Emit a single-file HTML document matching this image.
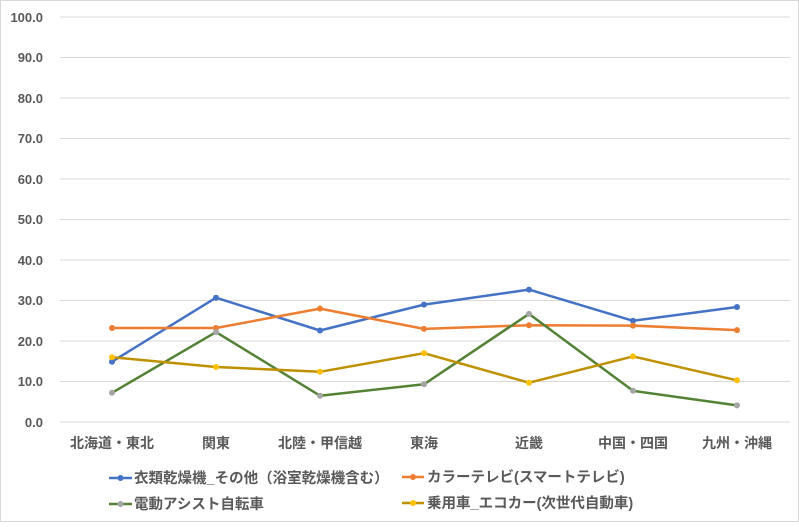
<!DOCTYPE html>
<html><head><meta charset="utf-8"><style>
body{margin:0;background:#fff}
svg text{font-family:"Liberation Sans","Noto Sans CJK JP",sans-serif;fill:#595959;font-weight:bold}
</style></head><body>
<svg width="799" height="522" xmlns="http://www.w3.org/2000/svg">
<rect x="0.5" y="0.5" width="798" height="521" fill="#fff" stroke="#d9d9d9"/>
<g stroke="#d9d9d9" stroke-width="1">
<line x1="60" x2="790" y1="422" y2="422"/><line x1="60" x2="790" y1="381.5" y2="381.5"/>
<line x1="60" x2="790" y1="341" y2="341"/><line x1="60" x2="790" y1="300.5" y2="300.5"/>
<line x1="60" x2="790" y1="260" y2="260"/><line x1="60" x2="790" y1="219.5" y2="219.5"/>
<line x1="60" x2="790" y1="179" y2="179"/><line x1="60" x2="790" y1="138.5" y2="138.5"/>
<line x1="60" x2="790" y1="98" y2="98"/><line x1="60" x2="790" y1="57.5" y2="57.5"/>
<line x1="60" x2="790" y1="17" y2="17"/>
</g>
<g font-size="13" text-anchor="end">
<text x="43" y="427">0.0</text><text x="43" y="386">10.0</text><text x="43" y="346">20.0</text>
<text x="43" y="305">30.0</text><text x="43" y="265">40.0</text><text x="43" y="224">50.0</text>
<text x="43" y="184">60.0</text><text x="43" y="143">70.0</text><text x="43" y="103">80.0</text>
<text x="43" y="62">90.0</text><text x="43" y="22">100.0</text>
</g>
<g font-size="14" text-anchor="middle">
<text x="112" y="448">北海道・東北</text><text x="216" y="448">関東</text><text x="320" y="448">北陸・甲信越</text>
<text x="424" y="448">東海</text><text x="529" y="448">近畿</text><text x="633" y="448">中国・四国</text><text x="737" y="448">九州・沖縄</text>
</g>
<g fill="none" stroke-width="2.5" stroke-linejoin="round">
<polyline stroke="#4472c4" points="112,361.7 216,297.7 320,330.5 424,304.6 529,289.6 633,320.8 737,307"/>
<polyline stroke="#ed7d31" points="112,328 216,328 320,308.6 424,328.9 529,325.2 633,325.6 737,330.1"/>
<polyline stroke="#548235" points="112,392.8 216,332.1 320,395.7 424,384.3 529,313.9 633,390.8 737,405.4"/>
<polyline stroke="#bf9000" points="112,357.2 216,367 320,371.8 424,353.2 529,382.7 633,356.4 737,380.3"/>
</g>
<g fill="#4472c4"><circle cx="112" cy="361.7" r="3"/><circle cx="216" cy="297.7" r="3"/><circle cx="320" cy="330.5" r="3"/><circle cx="424" cy="304.6" r="3"/><circle cx="529" cy="289.6" r="3"/><circle cx="633" cy="320.8" r="3"/><circle cx="737" cy="307" r="3"/></g>
<g fill="#ed7d31"><circle cx="112" cy="328" r="3"/><circle cx="216" cy="328" r="3"/><circle cx="320" cy="308.6" r="3"/><circle cx="424" cy="328.9" r="3"/><circle cx="529" cy="325.2" r="3"/><circle cx="633" cy="325.6" r="3"/><circle cx="737" cy="330.1" r="3"/></g>
<g fill="#a5a5a5"><circle cx="112" cy="392.8" r="3"/><circle cx="216" cy="332.1" r="3"/><circle cx="320" cy="395.7" r="3"/><circle cx="424" cy="384.3" r="3"/><circle cx="529" cy="313.9" r="3"/><circle cx="633" cy="390.8" r="3"/><circle cx="737" cy="405.4" r="3"/></g>
<g fill="#ffc000"><circle cx="112" cy="357.2" r="3"/><circle cx="216" cy="367" r="3"/><circle cx="320" cy="371.8" r="3"/><circle cx="424" cy="353.2" r="3"/><circle cx="529" cy="382.7" r="3"/><circle cx="633" cy="356.4" r="3"/><circle cx="737" cy="380.3" r="3"/></g>
<g stroke-width="2.5">
<line x1="109" x2="132" y1="478" y2="478" stroke="#4472c4"/><circle cx="120.5" cy="478" r="3" fill="#4472c4"/>
<line x1="402" x2="424" y1="477" y2="477" stroke="#ed7d31"/><circle cx="413" cy="477" r="3" fill="#ed7d31"/>
<line x1="109" x2="132" y1="504" y2="504" stroke="#548235"/><circle cx="120.5" cy="504" r="3" fill="#a5a5a5"/>
<line x1="402" x2="424" y1="503" y2="503" stroke="#bf9000"/><circle cx="413" cy="503" r="3" fill="#ffc000"/>
</g>
<g font-size="14.5">
<text x="134" y="483">衣類乾燥機_その他（浴室乾燥機含む）</text>
<text x="427" y="482">カラーテレビ(スマートテレビ)</text>
<text x="134" y="509">電動アシスト自転車</text>
<text x="427" y="508">乗用車_エコカー(次世代自動車)</text>
</g>
</svg>
</body></html>
